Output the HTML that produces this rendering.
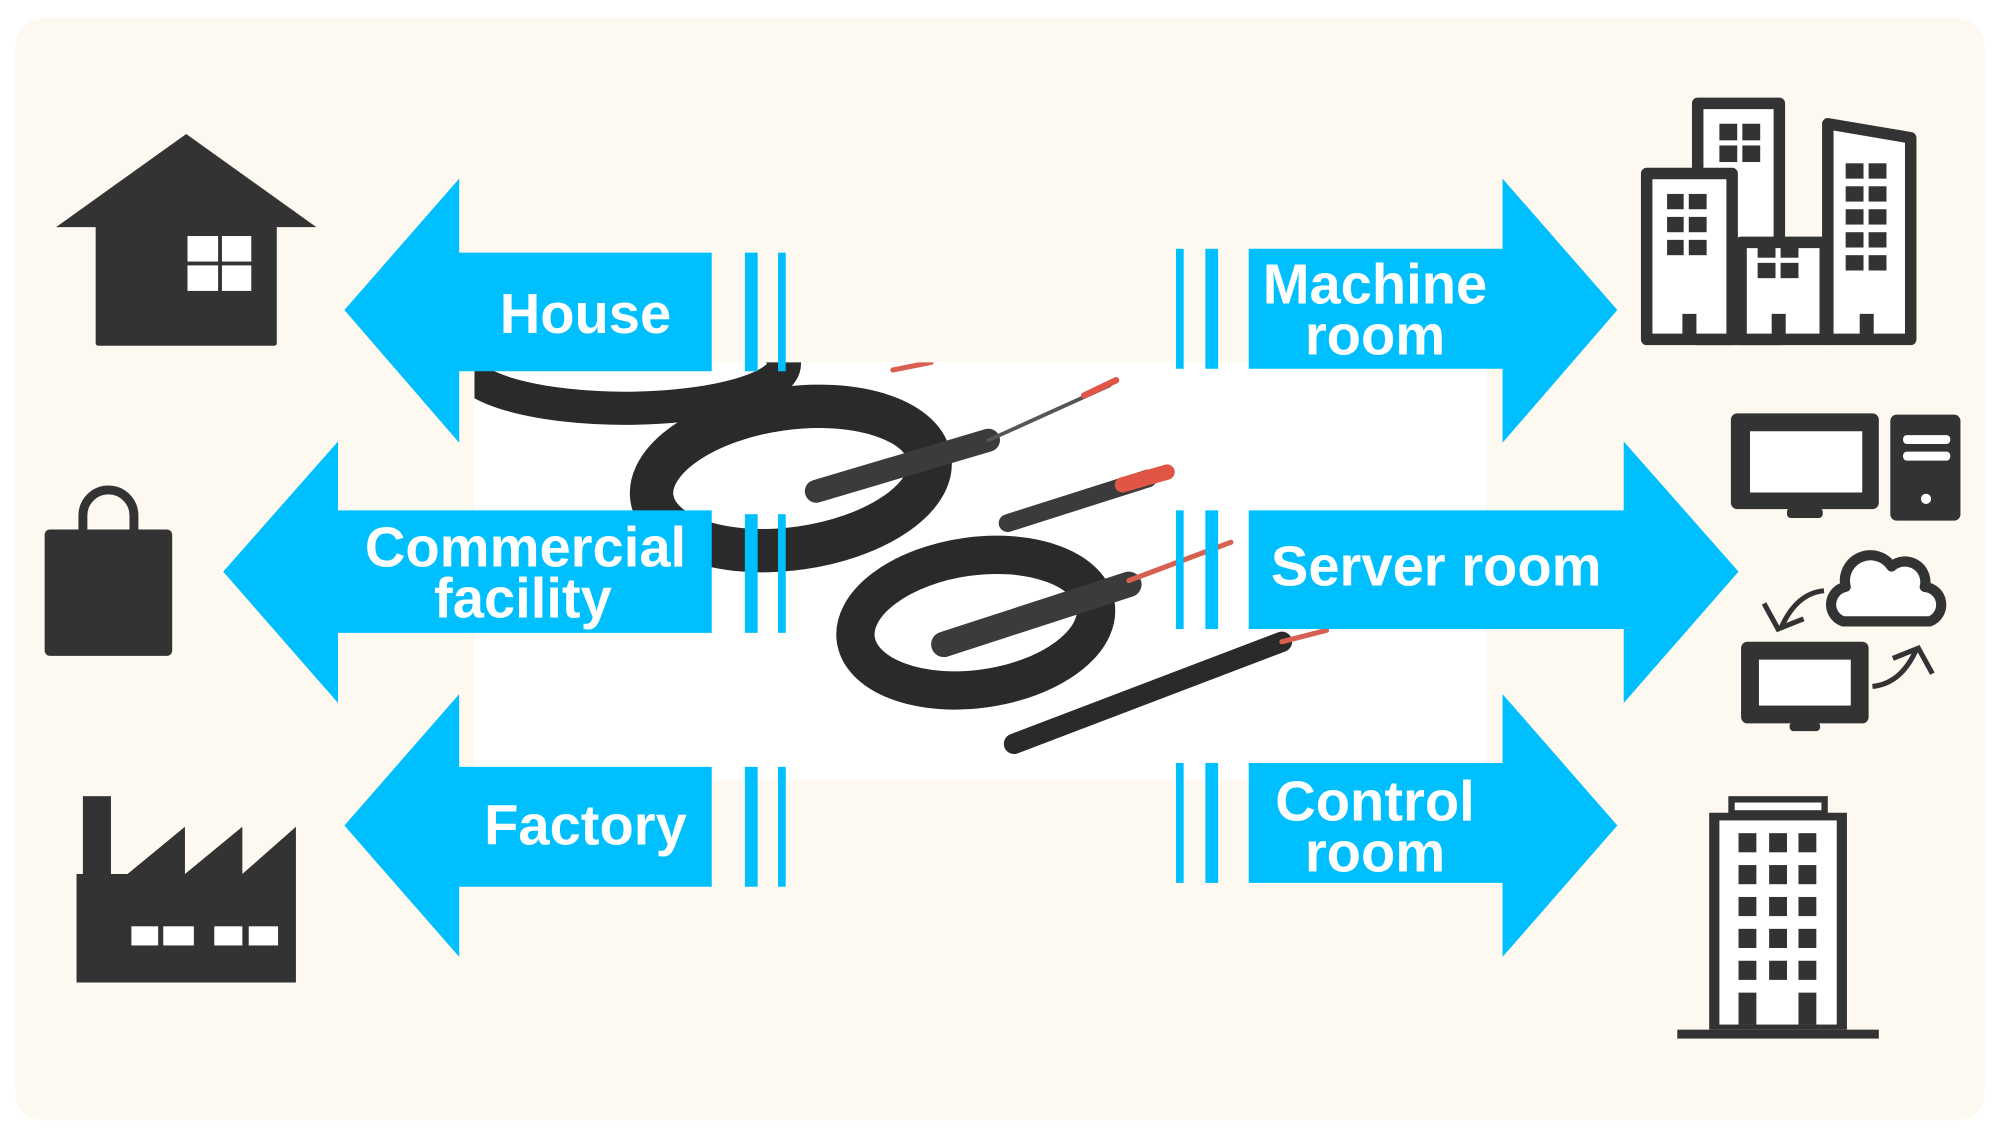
<!DOCTYPE html>
<html><head><style>html,body{margin:0;padding:0;background:#fff}svg{display:block}</style></head>
<body>
<svg width="2000" height="1133" viewBox="0 0 1568 888" preserveAspectRatio="none" xmlns="http://www.w3.org/2000/svg">
<defs><clipPath id="ph"><rect x="372" y="284" width="793" height="328"/></clipPath></defs>
<rect x="0" y="0" width="1568" height="888" fill="#fff"/>
<rect x="12" y="14" width="1544" height="864" rx="22" fill="#fdf9f1"/>
<!-- photo -->
<rect x="372" y="284" width="793" height="328" fill="#fff"/>
<g clip-path="url(#ph)">
<g fill="none" stroke="#2a2a2a">
<ellipse cx="490" cy="285" rx="125" ry="35" stroke-width="26"/>
<ellipse cx="620" cy="375" rx="110" ry="55" stroke-width="34" transform="rotate(-8 620 375)"/>
<ellipse cx="765" cy="488" rx="95" ry="52" stroke-width="30" transform="rotate(-8 765 488)"/>
</g>
<g stroke-linecap="round">
<line x1="640" y1="385" x2="775" y2="345" stroke="#3b3b3b" stroke-width="18"/>
<line x1="775" y1="345" x2="870" y2="302" stroke="#555" stroke-width="3"/>
<line x1="850" y1="310" x2="875" y2="298" stroke="#e05545" stroke-width="5"/>
<line x1="700" y1="290" x2="730" y2="284" stroke="#d86050" stroke-width="4"/>
<line x1="740" y1="505" x2="885" y2="458" stroke="#3b3b3b" stroke-width="20"/>
<line x1="790" y1="410" x2="900" y2="375" stroke="#3b3b3b" stroke-width="14"/>
<line x1="880" y1="380" x2="915" y2="370" stroke="#e05545" stroke-width="12"/>
<line x1="885" y1="455" x2="965" y2="425" stroke="#d86050" stroke-width="4"/>
<line x1="795" y1="583" x2="1005" y2="503" stroke="#2a2a2a" stroke-width="16"/>
<line x1="1005" y1="503" x2="1040" y2="494" stroke="#d86050" stroke-width="4"/>
</g>
</g>
<!-- arrows -->
<g fill="#00bfff">
<polygon points="270,243 360,140 360,198 558,198 558,291 360,291 360,347"/>
<rect x="584" y="198" width="10" height="93"/><rect x="610" y="198" width="6" height="93"/>
<polygon points="175,448 265,346 265,400 558,400 558,496 265,496 265,551"/>
<rect x="584" y="403" width="10" height="93"/><rect x="610" y="403" width="6" height="93"/>
<polygon points="270,647 360,544 360,601 558,601 558,695 360,695 360,750"/>
<rect x="584" y="601" width="10" height="94"/><rect x="610" y="601" width="6" height="94"/>
<polygon points="1268,243 1178,140 1178,195 979,195 979,289 1178,289 1178,347"/>
<rect x="922" y="195" width="6" height="94"/><rect x="945" y="195" width="10" height="94"/>
<polygon points="1363,448 1273,346 1273,400 979,400 979,493 1273,493 1273,551"/>
<rect x="922" y="400" width="6" height="93"/><rect x="945" y="400" width="10" height="93"/>
<polygon points="1268,647 1178,544 1178,598 979,598 979,692 1178,692 1178,750"/>
<rect x="922" y="598" width="6" height="94"/><rect x="945" y="598" width="10" height="94"/>
</g>
<g fill="#fff" font-family="Liberation Sans, sans-serif" font-weight="bold" font-size="44" text-anchor="middle">
<text x="459" y="261">House</text>
<text x="412" y="444">Commercial</text>
<text x="410" y="484">facility</text>
<text x="459" y="662">Factory</text>
<text x="1078" y="238">Machine</text>
<text x="1078" y="278">room</text>
<text x="1126" y="459">Server room</text>
<text x="1078" y="643">Control</text>
<text x="1078" y="683">room</text>
</g>
<!-- left icons -->
<g fill="#333">
<polygon points="44,178 146,105 248,178"/>
<rect x="75" y="170" width="142" height="101" rx="2"/>
<rect x="35" y="415" width="100" height="99" rx="4"/>
<rect x="65" y="624" width="22" height="62"/>
<polygon points="60,685 100,685 145,648 145,685 190,648 190,685 232,648 232,770 60,770"/>
</g>
<path d="M65,418 v-14 a20,20 0 0 1 40,0 v14" fill="none" stroke="#333" stroke-width="7"/>
<g fill="#fff">
<rect x="147" y="185" width="24" height="20"/><rect x="174" y="185" width="23" height="20"/>
<rect x="147" y="208" width="24" height="20"/><rect x="174" y="208" width="23" height="20"/>
<rect x="103" y="726" width="21" height="15"/><rect x="128" y="726" width="24" height="15"/>
<rect x="168" y="726" width="22" height="15"/><rect x="195" y="726" width="23" height="15"/>
</g>
<!-- right buildings -->
<g stroke="#333" stroke-width="9" fill="#fff" stroke-linejoin="round">
<rect x="1331" y="81" width="64" height="185"/>
<polygon points="1433,97 1498,108 1498,266 1433,266"/>
<rect x="1291" y="136" width="67" height="130"/>
<rect x="1365" y="190" width="66" height="76"/>
</g>
<g fill="#333">
<rect x="1348" y="97" width="14" height="13"/><rect x="1366" y="97" width="14" height="13"/>
<rect x="1348" y="114" width="14" height="13"/><rect x="1366" y="114" width="14" height="13"/>
<rect x="1307" y="152" width="13" height="12"/><rect x="1324" y="152" width="14" height="12"/>
<rect x="1307" y="170" width="13" height="12"/><rect x="1324" y="170" width="14" height="12"/>
<rect x="1307" y="188" width="13" height="12"/><rect x="1324" y="188" width="14" height="12"/>
<rect x="1378" y="190" width="14" height="12"/><rect x="1396" y="190" width="14" height="12"/>
<rect x="1378" y="206" width="14" height="12"/><rect x="1396" y="206" width="14" height="12"/>
<rect x="1447" y="128" width="14" height="12"/><rect x="1465" y="128" width="14" height="12"/>
<rect x="1447" y="146" width="14" height="12"/><rect x="1465" y="146" width="14" height="12"/>
<rect x="1447" y="164" width="14" height="12"/><rect x="1465" y="164" width="14" height="12"/>
<rect x="1447" y="182" width="14" height="12"/><rect x="1465" y="182" width="14" height="12"/>
<rect x="1447" y="200" width="14" height="12"/><rect x="1465" y="200" width="14" height="12"/>
<rect x="1319" y="246" width="11" height="20"/><rect x="1389" y="246" width="11" height="20"/><rect x="1458" y="246" width="11" height="20"/>
<rect x="1357" y="324" width="116" height="75" rx="5"/>
<rect x="1401" y="398" width="28" height="8" rx="3"/>
<rect x="1482" y="325" width="55" height="83" rx="5"/>
<rect x="1365" y="503" width="100" height="64" rx="5"/>
<rect x="1403" y="566" width="24" height="7" rx="3"/>
<rect x="1340" y="637" width="108" height="170"/>
<rect x="1355" y="624" width="78" height="15"/>
<rect x="1315" y="807" width="158" height="7"/>
</g>
<g fill="#fff">
<rect x="1372" y="338" width="88" height="48"/>
<rect x="1492" y="341" width="37" height="7" rx="3"/><rect x="1492" y="354" width="37" height="7" rx="3"/>
<circle cx="1510" cy="391" r="4"/>
<rect x="1379" y="517" width="72" height="36"/>
<rect x="1348" y="643" width="92" height="160"/>
<rect x="1360" y="629" width="68" height="6"/>
</g>
<g fill="#333">
<rect x="1363" y="653" width="14" height="15"/><rect x="1387" y="653" width="14" height="15"/><rect x="1410" y="653" width="14" height="15"/>
<rect x="1363" y="678" width="14" height="15"/><rect x="1387" y="678" width="14" height="15"/><rect x="1410" y="678" width="14" height="15"/>
<rect x="1363" y="703" width="14" height="15"/><rect x="1387" y="703" width="14" height="15"/><rect x="1410" y="703" width="14" height="15"/>
<rect x="1363" y="728" width="14" height="15"/><rect x="1387" y="728" width="14" height="15"/><rect x="1410" y="728" width="14" height="15"/>
<rect x="1363" y="753" width="14" height="15"/><rect x="1387" y="753" width="14" height="15"/><rect x="1410" y="753" width="14" height="15"/>
<rect x="1363" y="778" width="14" height="25"/><rect x="1410" y="778" width="14" height="25"/>
</g>
<path d="M1445,487 a14,14 0 0 1 2,-27 a20,20 0 0 1 36,-16 a16,16 0 0 1 26,16 a14,14 0 0 1 4,27 z" fill="#fff" stroke="#333" stroke-width="8" stroke-linejoin="round"/>
<g fill="none" stroke="#333" stroke-width="4">
<path d="M1430,463 q-22,2 -34,30"/><path d="M1383,473 l11,20 l20,-8"/>
<path d="M1468,538 q22,-2 34,-28"/><path d="M1515,528 l-11,-20 l-20,8"/>
</g>
</svg>
</body></html>
